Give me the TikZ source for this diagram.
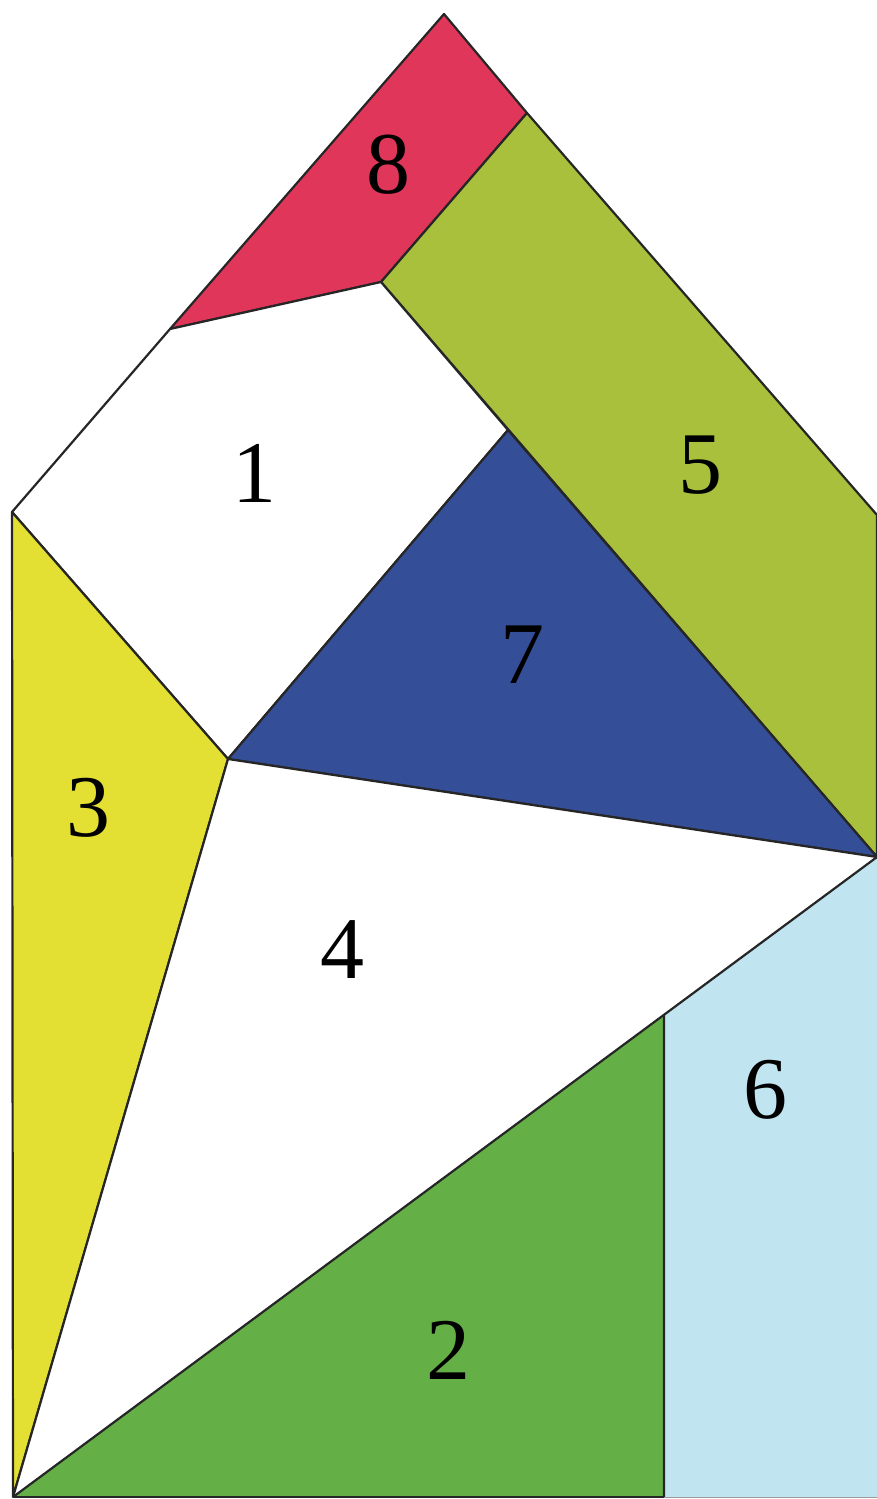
\documentclass[tikz,border=0pt]{standalone}
\usepackage{fontspec}
\setmainfont{Liberation Serif}
\usetikzlibrary{calc}
\definecolor{cred}{HTML}{E0365A}
\definecolor{colive}{HTML}{A8C03C}
\definecolor{cblue}{HTML}{344E98}
\definecolor{cyellow}{HTML}{E3E033}
\definecolor{cgreen}{HTML}{64B046}
\definecolor{clight}{HTML}{C0E4F0}
\begin{document}
\begin{tikzpicture}[x=1pt,y=-1pt,
  piece/.style={draw=black!85,line width=2.2pt,line join=round},
  lbl/.style={font=\fontsize{88}{88}\selectfont,text=black,inner sep=0pt}]
\useasboundingbox (0,0) rectangle (877,1499);
\coordinate (A) at (444,14);
\coordinate (B) at (527,113);
\coordinate (R) at (877,515);
\coordinate (C) at (381,282);
\coordinate (D) at (170,329);
\coordinate (E) at (12,512);
\coordinate (F) at (228,759);
\coordinate (G) at (508,430);
\coordinate (H) at (877,857);
\coordinate (J) at (13,1497);
\coordinate (I) at ($(J)!0.7535!(H)$);
\coordinate (K) at (664,1497);
\coordinate (L) at (877,1497);
\filldraw[piece,fill=cred] (A) -- (B) -- (C) -- (D) -- cycle;
\filldraw[piece,fill=colive] (B) -- (R) -- (H) -- (C) -- cycle;
\filldraw[piece,fill=white] (D) -- (C) -- (G) -- (F) -- (E) -- cycle;
\filldraw[piece,fill=cblue] (G) -- (H) -- (F) -- cycle;
\filldraw[piece,fill=cyellow] (E) -- (F) -- (J) -- cycle;
\fill[white] (F) -- (H) -- (J) -- cycle;
\fill[cgreen] (J) -- (I) -- (K) -- cycle;
\fill[clight] (I) -- (H) -- (L) -- (K) -- cycle;
\draw[piece] (F) -- (H);
\draw[piece] (F) -- (J);
\draw[piece] (J) -- (I) -- (H);
\draw[piece] (I) -- (K);
\draw[piece] (J) -- (K);
\draw[black!40,line width=0.8pt] (K) -- (L);
\node[lbl] (n8) at (388,165) {8};
\node[lbl] (n5) at (700,465) {5};
\node[lbl] (n1) at (254,473) {1};
\node[lbl] (n7) at (522,655) {7};
\node[lbl] (n3) at (88,808) {3};
\node[lbl] (n4) at (342,950) {4};
\node[lbl] (n6) at (765,1090) {6};
\node[lbl] (n2) at (448,1350) {2};
\end{tikzpicture}
\end{document}
